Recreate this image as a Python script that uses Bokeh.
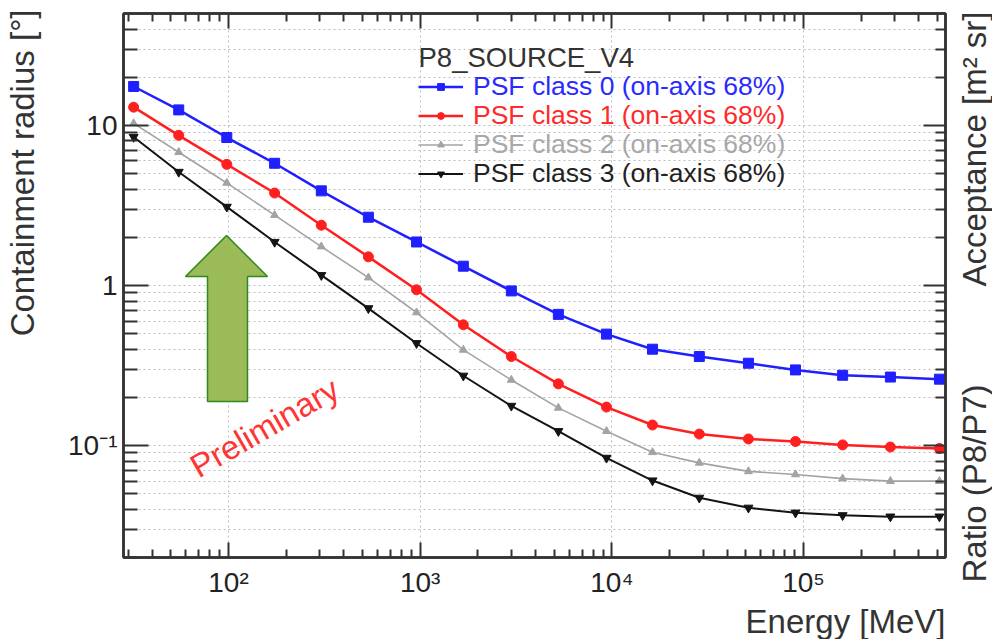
import math
from bokeh.plotting import figure
from bokeh.layouts import row
from bokeh.models import (FixedTicker, LogAxis, Label, Legend, LegendItem,
                          PolyAnnotation, CustomJSTickFormatter, Title)
from bokeh.embed import file_html
from bokeh.resources import INLINE

# ---------------- data ----------------
energy = [32, 55, 98, 174, 305, 537, 957, 1680, 2990, 5260, 9380,
          16300, 28600, 51600, 90800, 160000, 284000, 512000]
psf0 = [17.5, 12.5, 8.4, 5.8, 3.9, 2.67, 1.87, 1.32, 0.925, 0.66, 0.497,
        0.40, 0.36, 0.327, 0.297, 0.275, 0.268, 0.26]
psf1 = [13.0, 8.67, 5.71, 3.78, 2.38, 1.51, 0.94, 0.568, 0.36, 0.243, 0.174,
        0.1345, 0.118, 0.110, 0.106, 0.101, 0.098, 0.096]
psf2 = [10.3, 6.8, 4.37, 2.75, 1.75, 1.12, 0.678, 0.396, 0.257, 0.172, 0.123,
        0.0908, 0.078, 0.069, 0.066, 0.0622, 0.060, 0.060]
psf3 = [8.46, 5.12, 3.1, 1.87, 1.16, 0.72, 0.436, 0.273, 0.177, 0.123, 0.0838,
        0.0605, 0.0472, 0.0409, 0.0381, 0.0367, 0.036, 0.036]

series_labels = ["PSF class 0 (on-axis 68%)", "PSF class 1 (on-axis 68%)",
                 "PSF class 2 (on-axis 68%)", "PSF class 3 (on-axis 68%)"]
legend_header = "P8_SOURCE_V4"

x_major = [100, 1000, 10000, 100000]
x_tick_labels = ["10²", "10³", "10⁴", "10⁵"]
y_major = [0.1, 1, 10]
y_tick_labels = ["10⁻¹", "1", "10"]

x_label = "Energy [MeV]"
y_label = "Containment radius [°]"
right_label_top = "Acceptance [m² sr]"
right_label_bottom = "Ratio (P8/P7)"
watermark = "Preliminary"

# ---------------- styling / layout constants ----------------
FONT = "Liberation Sans"
AX = "#333333"
TXT = "#333333"
x_lo, x_hi = 28.33, 5.506e5
y_lo, y_hi = 0.02, 50
H = 639
LEFT_W = 45            # strip holding the left title
RIGHT_W = 37           # strip holding the two right titles
MAIN_W = 992 - LEFT_W - RIGHT_W
FRAME_L, FRAME_R, FRAME_T, FRAME_B = 123, 945, 13, 558   # canvas px

x_minor = [m * 10 ** d for d in range(1, 6) for m in range(2, 10)
           if x_lo < m * 10 ** d < x_hi]
y_minor = [m * 10.0 ** d for d in range(-2, 2) for m in range(2, 10)
           if y_lo <= m * 10.0 ** d < y_hi]
xticker = FixedTicker(ticks=x_major, minor_ticks=x_minor)
yticker = FixedTicker(ticks=y_major, minor_ticks=y_minor)

p = figure(width=MAIN_W, height=H, x_axis_type="log", y_axis_type="log",
           x_range=(x_lo, x_hi), y_range=(y_lo, y_hi),
           output_backend="svg", toolbar_location=None,
           min_border_left=FRAME_L - LEFT_W,
           min_border_right=LEFT_W + MAIN_W - FRAME_R,
           min_border_top=FRAME_T, min_border_bottom=H - FRAME_B)
p.frame_align = False
p.background_fill_color = "white"
p.border_fill_color = "white"
p.outline_line_color = AX
p.outline_line_width = 2.5


def style_axis(ax, tin, tmin):
    ax.axis_line_color = AX
    ax.axis_line_width = 2.5
    ax.major_tick_in = tin
    ax.major_tick_out = 0
    ax.minor_tick_in = tmin
    ax.minor_tick_out = 0
    ax.major_tick_line_color = AX
    ax.minor_tick_line_color = AX
    ax.major_tick_line_width = 2
    ax.minor_tick_line_width = 2
    ax.major_label_text_font = FONT
    ax.major_label_text_color = "#222222"
    ax.major_label_text_font_size = "28px"


xa = p.xaxis[0]
ya = p.yaxis[0]
xa.ticker = xticker
ya.ticker = yticker
style_axis(xa, 15, 8)
style_axis(ya, 25, 14)
xa.major_label_overrides = dict(zip(x_major, x_tick_labels))
ya.major_label_overrides = dict(zip(y_major, y_tick_labels))
xa.major_label_standoff = 9
ya.major_label_standoff = 6

top = LogAxis(ticker=xticker, formatter=CustomJSTickFormatter(code="return ''"))
style_axis(top, 15, 8)
top.major_label_text_font_size = "1px"
top.major_label_standoff = 0
p.add_layout(top, "above")

right = LogAxis(ticker=yticker, formatter=CustomJSTickFormatter(code="return ''"))
style_axis(right, 22, 10)
right.major_label_text_font_size = "1px"
right.major_label_standoff = 0
p.add_layout(right, "right")

# bottom title, right-aligned to the frame end
p.add_layout(Title(text=x_label, align="right", standoff=0,
                   text_font=FONT, text_font_size="33px",
                   text_font_style="normal", text_color=TXT), "below")

# grids
p.xgrid.ticker = xticker
p.ygrid.ticker = yticker
GRID = "#bdbdbd"
for g in (p.xgrid[0], p.ygrid[0]):
    g.grid_line_color = GRID
    g.grid_line_dash = "2 3"
    g.grid_line_width = 1
p.ygrid[0].minor_grid_line_color = GRID
p.ygrid[0].minor_grid_line_dash = "2 3"
p.ygrid[0].minor_grid_line_width = 1

# ---------------- series ----------------
specs = [
    (psf0, "#1f1fff", 2.5, "square", 10, "#2a2aff"),
    (psf1, "#ff1f1f", 2.5, "circle", 10, "#ff2a2a"),
    (psf2, "#a3a3a3", 1.6, "triangle", 8, "#a8a8a8"),
    (psf3, "#141414", 2.0, "inverted_triangle", 9, "#222222"),
]
legend_rows = [88, 117, 146, 175]   # canvas y of legend row centres
for (vals, col, lw, mk, sz, tcol), lab, yc in zip(specs, series_labels, legend_rows):
    lr = p.line(energy, vals, line_color=col, line_width=lw)
    sr = p.scatter(energy, vals, marker=mk, size=sz, fill_color=col,
                   line_color=col)
    h = 30
    leg = Legend(items=[LegendItem(label=lab, renderers=[lr, sr])],
                 location=(418 - FRAME_L, FRAME_B - yc - h / 2),
                 orientation="vertical",
                 glyph_width=45, glyph_height=17, label_height=17,
                 label_standoff=10, padding=0, margin=0, spacing=0,
                 background_fill_alpha=0, border_line_color=None,
                 label_text_font=FONT, label_text_font_size="26.5px",
                 label_text_color=tcol, label_text_baseline="middle")
    p.add_layout(leg, "center")

p.add_layout(Label(x=418 - FRAME_L, y=FRAME_B - 58, x_units="screen",
                   y_units="screen", text=legend_header, text_font=FONT,
                   text_font_size="27.5px", text_color=TXT,
                   text_baseline="middle", text_align="left"))

# watermark
p.add_layout(Label(x=264 - FRAME_L, y=FRAME_B - 428, x_units="screen",
                   y_units="screen", text=watermark, angle=math.radians(30),
                   text_align="center", text_baseline="middle", text_font=FONT,
                   text_font_size="33px", text_color="#ff3535"))

# green arrow annotation (canvas px -> frame px)
arrow_canvas = [(226, 236), (267, 277), (247, 277), (247, 402),
                (207, 402), (207, 277), (185, 277)]
p.add_layout(PolyAnnotation(xs=[cx - FRAME_L for cx, _ in arrow_canvas],
                            ys=[FRAME_B - cy for _, cy in arrow_canvas],
                            xs_units="screen", ys_units="screen",
                            fill_color="#9bbb59", fill_alpha=1,
                            line_color="#2f8a1a", line_width=1.5,
                            line_alpha=1))


# ---------------- narrow strips holding the vertical titles ----------------
def strip(width):
    f = figure(width=width, height=H, x_range=(0, 1), y_range=(0, 1),
               output_backend="svg", toolbar_location=None,
               x_axis_location=None, y_axis_location=None,
               min_border_left=0, min_border_right=0, min_border_top=0,
               min_border_bottom=0)
    f.frame_align = False
    f.outline_line_color = None
    f.background_fill_color = "white"
    f.border_fill_color = "white"
    f.xgrid.visible = False
    f.ygrid.visible = False
    return f


sl = strip(LEFT_W)
sl.add_layout(Label(x=22, y=H - 9, x_units="screen", y_units="screen",
                    text=y_label, angle=math.pi / 2, text_align="right",
                    text_baseline="middle", text_font=FONT,
                    text_font_size="33px", text_color=TXT))

sr_ = strip(RIGHT_W)
rx = 974 - (LEFT_W + MAIN_W)
sr_.add_layout(Label(x=rx, y=H - 11, x_units="screen", y_units="screen",
                     text=right_label_top, angle=math.pi / 2, text_align="right",
                     text_baseline="middle", text_font=FONT,
                     text_font_size="33px", text_color=TXT))
sr_.add_layout(Label(x=rx, y=H - 582, x_units="screen", y_units="screen",
                     text=right_label_bottom, angle=math.pi / 2,
                     text_align="left", text_baseline="middle", text_font=FONT,
                     text_font_size="33px", text_color=TXT))

layout = row(sl, p, sr_, spacing=0)
open("out.html", "w").write(file_html(layout, INLINE))
